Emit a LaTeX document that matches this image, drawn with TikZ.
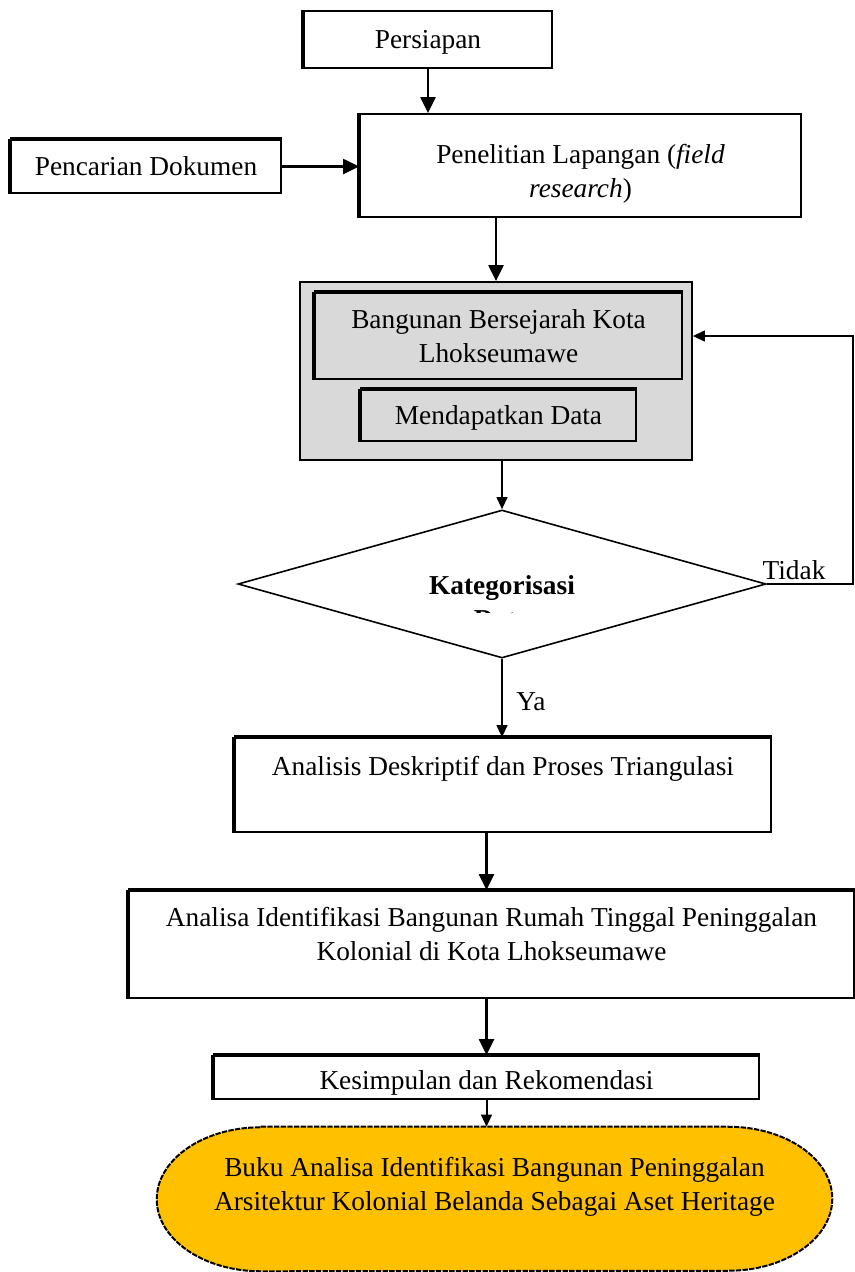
\documentclass[tikz,border=0pt]{standalone}
\usepackage{fontspec}
\setmainfont{Liberation Serif}
\usetikzlibrary{arrows.meta,shapes.geometric,backgrounds}
\definecolor{abuabu}{RGB}{217,217,217}
\definecolor{kuning}{RGB}{255,192,0}
\tikzset{
	kotak/.style={draw,line width=1.2pt,inner sep=0pt,align=center},
	tepi/.style={line width=3pt},
	panah/.style={line width=2.2pt,-{Triangle[length=12pt,width=11pt]}},
	panahtipis/.style={line width=1.5pt,-{Triangle[length=9pt,width=8pt]}}
}
\begin{document}
\begin{tikzpicture}[x=0.75pt,y=-0.75pt,font=\fontsize{20.5}{25.5}\selectfont]
	\useasboundingbox (0,0) rectangle (855,1272);

	\node[kotak,minimum width=186pt,minimum height=42.75pt] (persiapan) at (428,39.5) {\rule{0pt}{18pt}Persiapan};
	\node[kotak,minimum width=202.5pt,minimum height=39.75pt] (pencarian) at (146,166.5) {Pencarian Dokumen};
	\node[kotak,minimum width=330.75pt,minimum height=77.25pt] (penelitian) at (580.5,165.5) {\rule{0pt}{27pt}Penelitian Lapangan (\textit{field}\\\textit{research})};

	\node[kotak,fill=abuabu,minimum width=294pt,minimum height=133.5pt] (abu) at (496,371) {};
	\node[kotak,fill=abuabu,minimum width=275.25pt,minimum height=64.5pt] (bangunan) at (498.5,336) {Bangunan Bersejarah Kota\\Lhokseumawe};
	\node[kotak,fill=abuabu,minimum width=206.25pt,minimum height=38.25pt] (mendapat) at (498.5,415.5) {\rule{0pt}{18pt}Mendapatkan Data};

	\node[diamond,draw,line width=1.2pt,inner sep=0pt,minimum width=396pt,minimum height=111pt] (keputusan) at (502,584) {};
	\begin{scope}
		\clip (238,510) rectangle (766,612);
		\node[align=center,font=\fontsize{20.5}{25.5}\selectfont\bfseries] (kategori) at (502,602) {Kategorisasi\\Data};
	\end{scope}

	\node[kotak,minimum width=402pt,minimum height=70.5pt] (analisis) at (503,785) {Analisis Deskriptif dan Proses Triangulasi\\[3pt]\mbox{}};
	\node[kotak,minimum width=543.75pt,minimum height=80.25pt] (analisa) at (491.5,944.5) {Analisa Identifikasi Bangunan Rumah Tinggal Peninggalan\\Kolonial di Kota Lhokseumawe\\[-9pt]\mbox{}};
	\node[kotak,minimum width=408.75pt,minimum height=32.25pt] (kesimpulan) at (486.5,1077.5) {\rule{0pt}{23pt}Kesimpulan dan Rekomendasi};
	\node[inner sep=0pt,align=center,minimum width=506.25pt,minimum height=108pt] (hasil) at (494.5,1199) {Buku Analisa Identifikasi Bangunan Peninggalan\\Arsitektur Kolonial Belanda Sebagai Aset Heritage\\[-3pt]\mbox{}};
	\begin{pgfonlayer}{background}
		\draw[fill=kuning,line width=1.5pt,dash pattern=on 4pt off 1pt] ([xshift=78pt]hasil.north west) -- ([xshift=-78pt]hasil.north east) arc[start angle=90,end angle=-90,x radius=78pt,y radius=54pt] -- ([xshift=78pt]hasil.south west) arc[start angle=270,end angle=90,x radius=78pt,y radius=54pt] -- cycle;
	\end{pgfonlayer}

	\foreach \n in {persiapan,pencarian,penelitian,bangunan,mendapat,analisis,analisa,kesimpulan}
		\draw[tepi] (\n.north west) -- (\n.south west);
	\foreach \n in {pencarian,bangunan,mendapat,analisis,analisa,kesimpulan}
		\draw[tepi] (\n.north west) -- (\n.north east);

	\draw[panah] (persiapan.south) -- (persiapan.south |- penelitian.north);
	\draw[panah] (pencarian.east) -- (penelitian.west |- pencarian.east);
	\draw[panah] (abu.north |- penelitian.south) -- (abu.north);
	\draw[panahtipis] (abu.south -| keputusan.north) -- (keputusan.north);

	\coordinate (balik) at (853,584);
	\draw[panahtipis] (keputusan.east) -- (balik) |- (abu.east |- bangunan.center);
	\node (tidak) at (794,570) {Tidak};

	\draw[panahtipis] (keputusan.south) -- (keputusan.south |- analisis.north);
	\node (ya) at (531,702) {Ya};

	\draw[panah] (analisis.south -| kesimpulan.north) -- (analisa.north -| kesimpulan.north);
	\draw[panah] (analisa.south -| kesimpulan.north) -- (kesimpulan.north);
	\draw[panahtipis] (kesimpulan.south) -- (kesimpulan.south |- hasil.north);
\end{tikzpicture}
\end{document}
